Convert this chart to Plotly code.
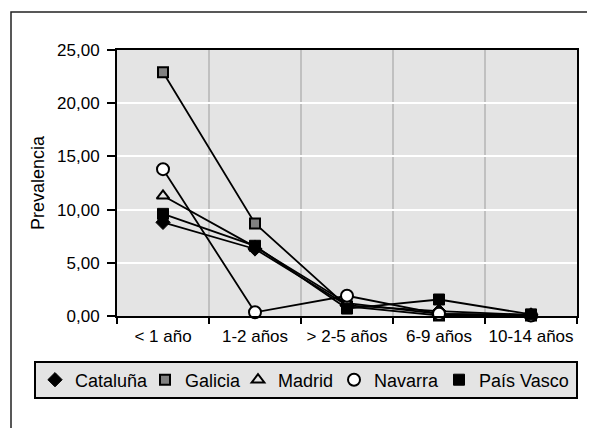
import plotly.graph_objects as go

categories = ["< 1 año", "1-2 años", "> 2-5 años", "6-9 años", "10-14 años"]
series_names = ["Cataluña", "Galicia", "Madrid", "Navarra", "País Vasco"]
cataluna = [8.8, 6.3, 1.0, 0.45, 0.1]
galicia = [22.9, 8.7, 0.9, 0.05, 0.05]
madrid = [11.3, 6.5, 1.2, 0.2, 0.1]
navarra = [13.8, 0.35, 1.9, 0.2, 0.05]
pais_vasco = [9.6, 6.6, 0.7, 1.55, 0.15]
y_ticks = [0, 5, 10, 15, 20, 25]

values = [cataluna, galicia, madrid, navarra, pais_vasco]
styles = [
    dict(symbol="diamond", size=11, color="black", line=dict(color="black", width=1)),
    dict(symbol="square", size=10, color="#808080", line=dict(color="black", width=2)),
    dict(symbol="triangle-up", size=11, color="#e4e4e4", line=dict(color="black", width=2)),
    dict(symbol="circle", size=12, color="white", line=dict(color="black", width=2)),
    dict(symbol="square", size=11, color="black", line=dict(color="black", width=1)),
]

# page is offset by the 8px body margin; layout in final-pixel terms
L, T, PW, PH = 109, 42, 460, 266
OFF = 8


def px(X):
    return (X - OFF - L) / PW


def py(Y):
    return (OFF + T + PH - Y) / PH


FONT = "Liberation Sans, Arial, sans-serif"
legend_text_x = [72, 182, 275, 371, 476]
legend_keys = ["legend", "legend2", "legend3", "legend4", "legend5"]

fig = go.Figure()
for name, vals in zip(series_names, values):
    fig.add_trace(go.Scatter(
        x=categories, y=vals, name=name, mode="lines",
        line=dict(color="black", width=1.8), showlegend=False, hoverinfo="skip",
    ))
for name, vals, st, lk in zip(series_names, values, styles, legend_keys):
    fig.add_trace(go.Scatter(
        x=categories, y=vals, name=name, mode="markers",
        marker=st, cliponaxis=False, legend=lk,
    ))

legends = {}
for lk, tx in zip(legend_keys, legend_text_x):
    legends[lk] = dict(
        orientation="h", x=px(tx - 37), y=py(380), xanchor="left", yanchor="middle",
        bgcolor="rgba(0,0,0,0)", borderwidth=0,
        font=dict(family=FONT, size=18, color="black"),
        itemwidth=30,
    )

fig.update_layout(
    width=587, height=420,
    margin=dict(l=L, r=18, t=T, b=112, autoexpand=False),
    paper_bgcolor="white", plot_bgcolor="#e4e4e4",
    separators=",.",
    font=dict(family=FONT, size=17, color="black"),
    showlegend=True,
    xaxis=dict(
        type="category", range=[-0.5, 4.5], tickson="boundaries",
        showgrid=True, gridcolor="#c0c0c0", gridwidth=2,
        showline=True, linecolor="black", linewidth=2, mirror=True,
        ticks="outside", ticklen=6, tickcolor="black", tickwidth=2,
        tickfont=dict(size=17), ticklabelstandoff=4, tickangle=0, automargin=False,
    ),
    yaxis=dict(
        range=[0, 25], tickvals=y_ticks, tickformat=".2f",
        showgrid=True, gridcolor="white", gridwidth=2, zeroline=False,
        showline=True, linecolor="black", linewidth=2, mirror=True,
        ticks="outside", ticklen=8, tickcolor="black", tickwidth=2,
        tickfont=dict(size=17), ticklabelstandoff=4, automargin=False,
        title=dict(text="Prevalencia", standoff=8, font=dict(size=18)),
    ),
    shapes=[
        dict(
            type="rect", xref="paper", yref="paper",
            x0=px(11), x1=px(620), y0=py(460), y1=py(12),
            line=dict(color="#222222", width=1.5), fillcolor="rgba(0,0,0,0)", layer="below",
        ),
        dict(
            type="rect", xref="paper", yref="paper",
            x0=px(35), x1=px(577), y0=py(398), y1=py(362),
            line=dict(color="black", width=2), fillcolor="#e4e4e4", layer="below",
        ),
    ],
    **legends,
)

fig.write_html("out.html")
